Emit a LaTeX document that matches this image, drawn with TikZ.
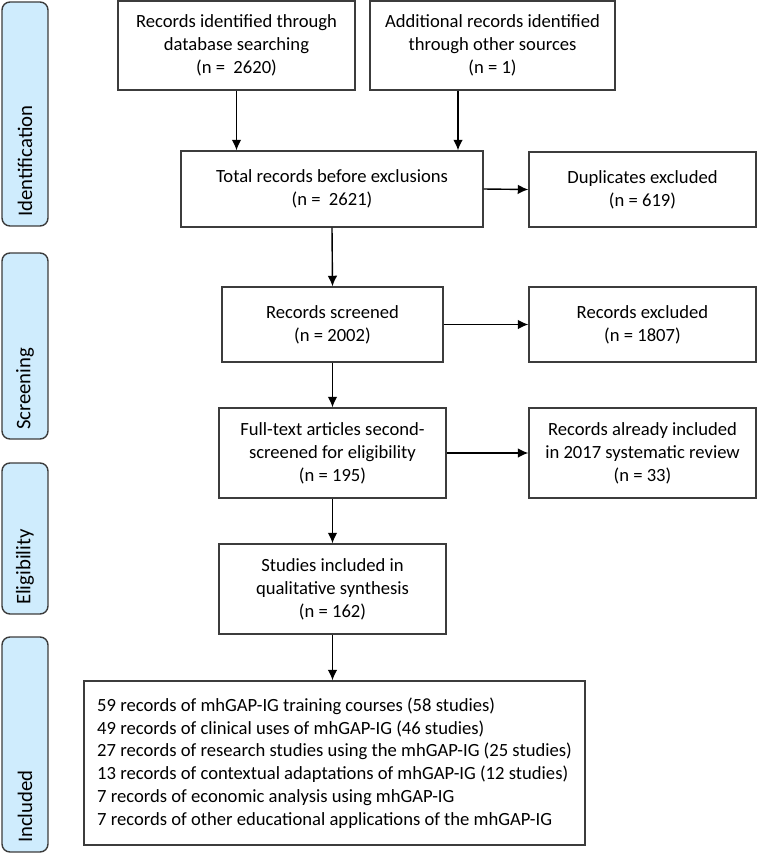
\documentclass[tikz,border=0pt]{standalone}
\usepackage{fontspec}
\setmainfont{Carlito}
\usetikzlibrary{arrows.meta}
\definecolor{phasefill}{RGB}{207,236,253}
\definecolor{edgegray}{RGB}{60,60,60}
\begin{document}
\begin{tikzpicture}[x=0.02cm, y=-0.02cm, font=\fontsize{10.6}{13}\selectfont,
  box node/.style={shape=rectangle, draw=edgegray, line width=0.8pt, align=center, inner sep=2pt},
  phase node/.style={shape=rectangle, rounded corners=4.5pt, draw=edgegray, line width=0.8pt, fill=phasefill, rotate=90, minimum height=0.92cm, inner sep=0pt, align=left, font=\fontsize{11.8}{14}\selectfont},
  link/.style={-{Latex[length=6pt,width=5.5pt]}, line width=0.8pt}]
\useasboundingbox (0,0) rectangle (757,853);
\node[phase node, minimum width=4.48cm, text width=4.12cm] (I) at (25,114) {Identification};
\node[phase node, minimum width=3.72cm, text width=3.36cm] (S) at (25,346) {Screening};
\node[phase node, minimum width=3.02cm, text width=2.66cm] (E) at (25,538.5) {Eligibility};
\node[phase node, minimum width=4.3cm, text width=3.94cm] (N) at (25,744.5) {Included};
\node[box node, minimum width=4.74cm, minimum height=1.78cm] (db) at (236.5,45.5) {Records identified through\\database searching\\(n =~~2620)};
\node[box node, minimum width=4.9cm, minimum height=1.78cm] (add) at (492.5,45.5) {Additional records identified\\through other sources\\(n = 1)};
\node[box node, minimum width=6.04cm, minimum height=1.52cm] (tot) at (332,189) {Total records before exclusions\\(n =~~2621)};
\node[box node, minimum width=4.54cm, minimum height=1.5cm] (dup) at (642.5,189.5) {Duplicates excluded\\(n = 619)};
\node[box node, minimum width=4.42cm, minimum height=1.5cm] (scr) at (332.5,324.5) {Records screened\\(n = 2002)};
\node[box node, minimum width=4.54cm, minimum height=1.5cm] (exc) at (642.5,324.5) {Records excluded\\(n = 1807)};
\node[box node, minimum width=4.54cm, minimum height=1.8cm] (full) at (332.5,453) {Full-text articles second-\\screened for eligibility\\(n = 195)};
\node[box node, minimum width=4.54cm, minimum height=1.8cm] (alr) at (642.5,453) {Records already included\\in 2017 systematic review\\(n = 33)};
\node[box node, minimum width=4.54cm, minimum height=1.8cm] (stud) at (332.5,589) {Studies included in\\qualitative synthesis\\(n = 162)};
\node[box node, minimum width=10.02cm, minimum height=3.28cm, align=left] (res) at (334.5,763) {59 records of mhGAP-IG training courses (58 studies)\\49 records of clinical uses of mhGAP-IG (46 studies)\\27 records of research studies using the mhGAP-IG (25 studies)\\13 records of contextual adaptations of mhGAP-IG (12 studies)\\7 records of economic analysis using mhGAP-IG\\7 records of other educational applications of the mhGAP-IG};
\draw [link] (db.south) -- (db.south |- tot.north);
\draw [link] ([xshift=-0.69cm]add.south) -- ([xshift=-0.69cm]add.south |- tot.north);
\draw [link] (tot.east) -- (dup.west);
\draw [link] (tot.south) -- (scr.north);
\draw [link] (scr.east) -- (exc.west);
\draw [link] (scr.south) -- (full.north);
\draw [link] (full.east) -- (alr.west);
\draw [link] (full.south) -- (stud.north);
\draw [link] (stud.south) -- (stud.south |- res.north);
\end{tikzpicture}
\end{document}
